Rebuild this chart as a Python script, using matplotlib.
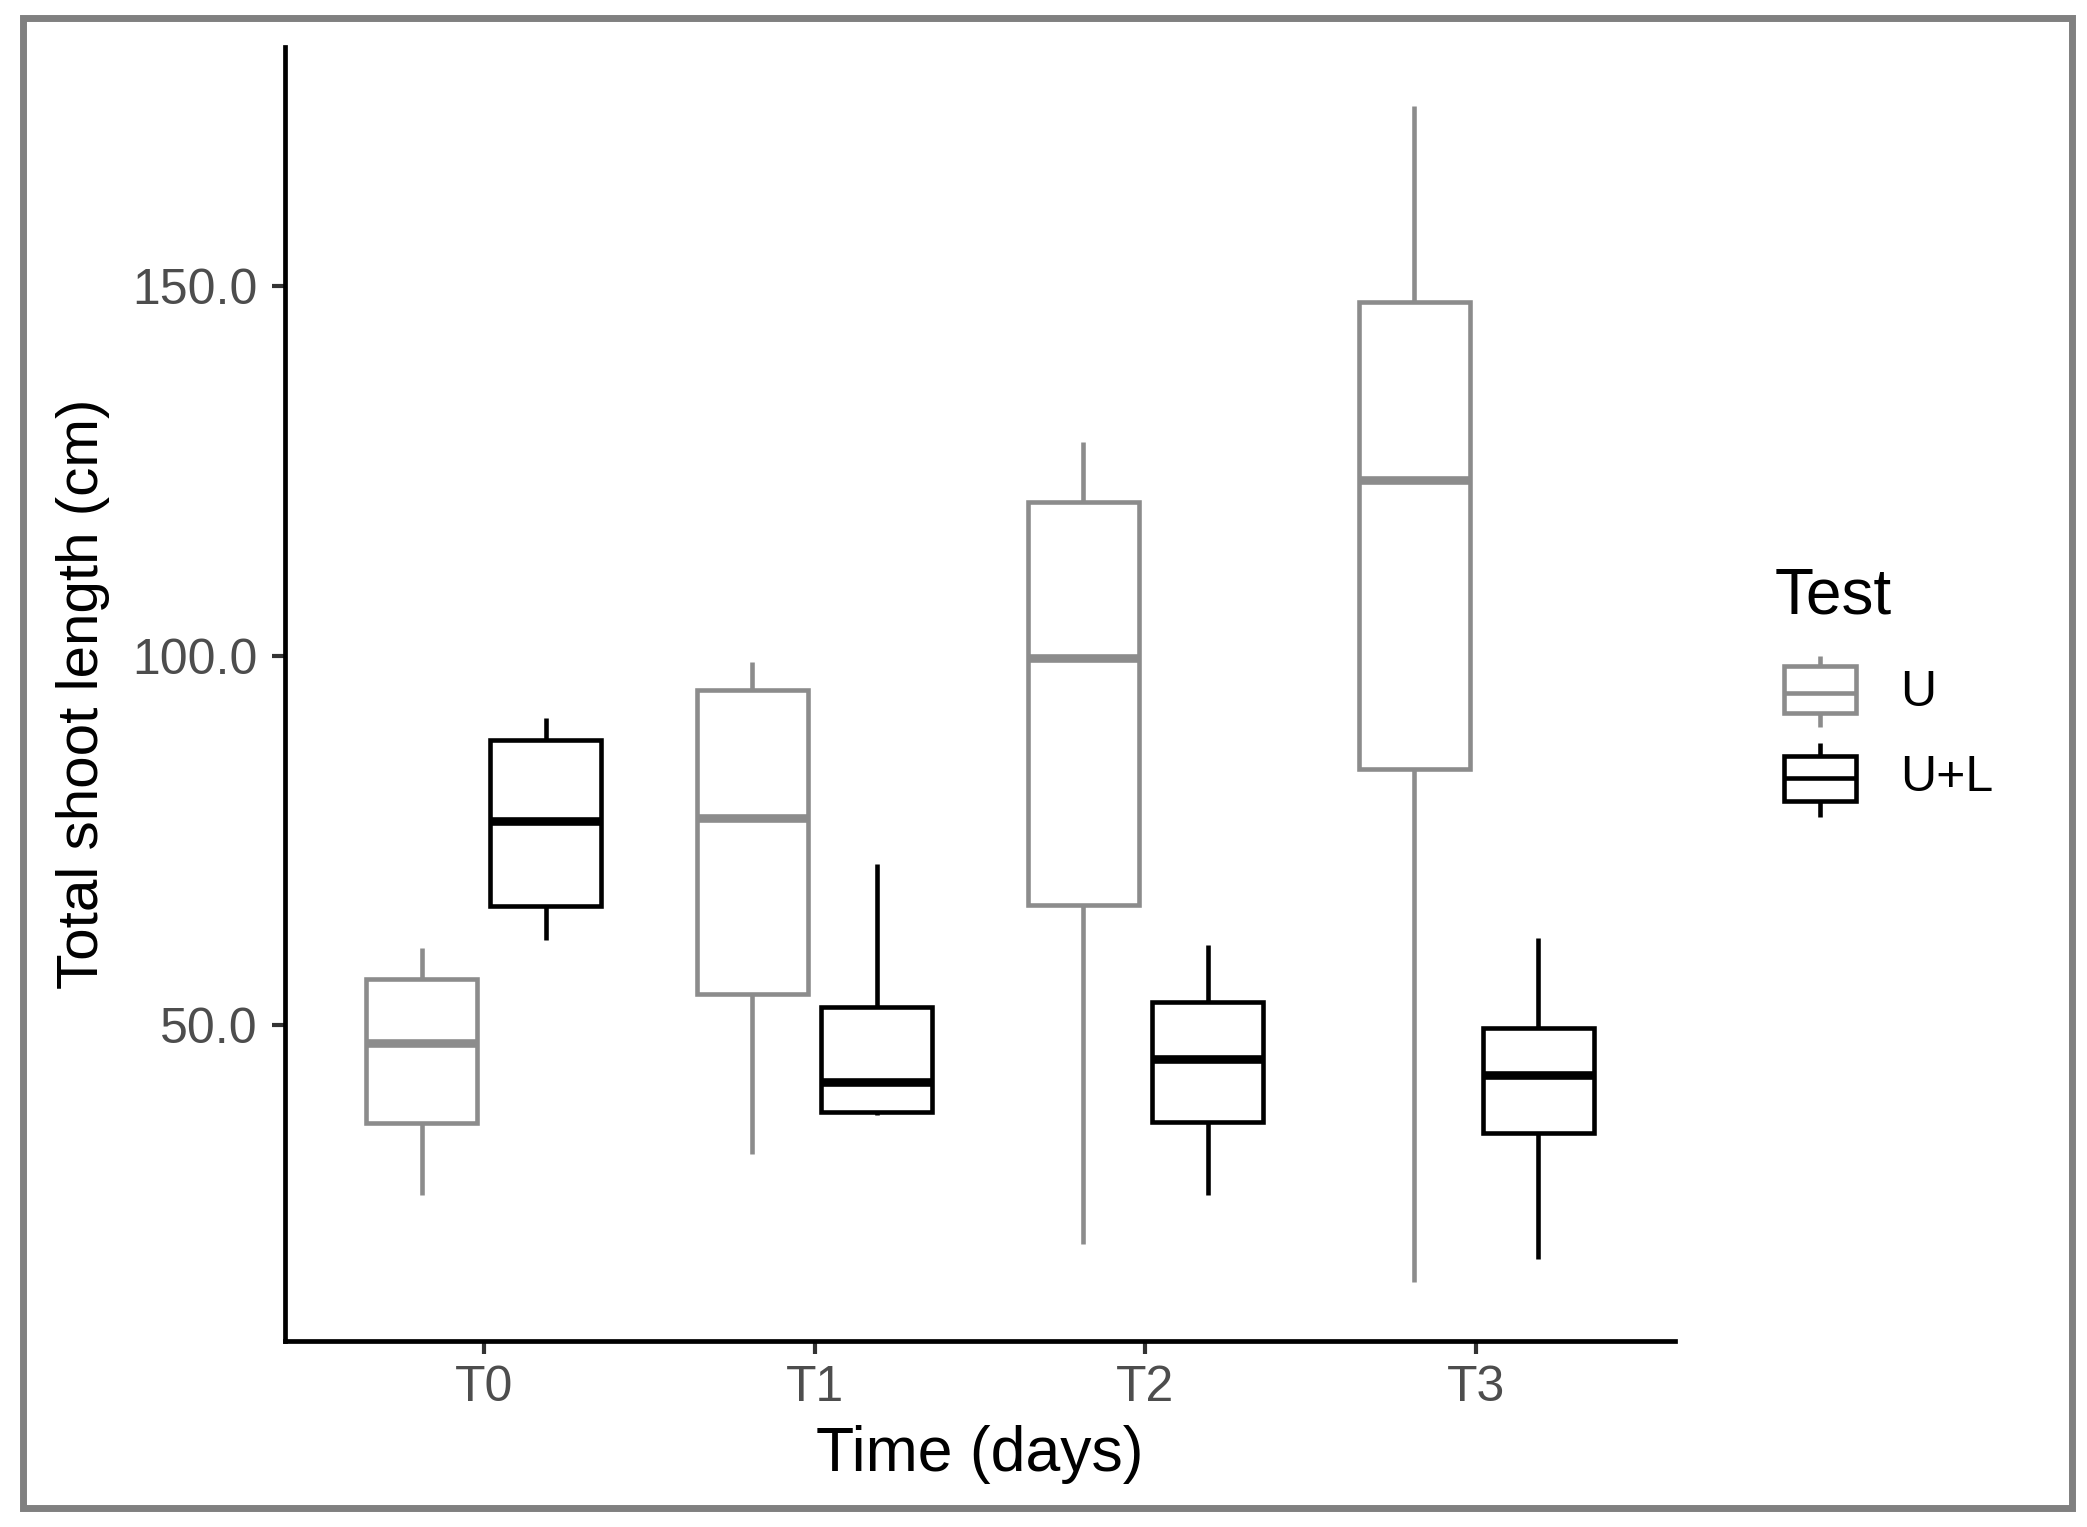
import matplotlib
matplotlib.use("Agg")
import matplotlib.pyplot as plt
from matplotlib.patches import Rectangle
import numpy as np

plt.rcParams['font.family'] = ['Liberation Sans', 'DejaVu Sans']

# values (cm)
times = ['T0', 'T1', 'T2', 'T3']
groups = ['U', 'U+L']
colours = ['#8c8c8c', '#000000']

u_whislo = [27.1, 32.6, 20.5, 15.3]
u_q1 = [36.8, 54.3, 66.3, 84.7]
u_med = [47.6, 78.0, 99.7, 123.7]
u_q3 = [56.3, 95.3, 120.8, 147.8]
u_whishi = [60.5, 99.1, 128.9, 174.3]

ul_whislo = [61.6, 37.9, 27.1, 18.4]
ul_q1 = [66.1, 38.3, 37.0, 35.4]
ul_med = [77.6, 42.4, 45.5, 43.3]
ul_q3 = [88.6, 52.5, 53.2, 49.6]
ul_whishi = [91.6, 71.8, 60.9, 61.8]

yticks = [50, 100, 150]

W, H = 2087, 1527
fig = plt.figure(figsize=(W / 100, H / 100), dpi=100)
fig.patch.set_facecolor('white')

#background layer in pixel coords for frame + legend
bg = fig.add_axes([0, 0, 1, 1])
bg.set_xlim(0, W)
bg.set_ylim(H, 0)
bg.axis('off')
bg.add_patch(Rectangle((23, 18), 2072 - 23, 1508 - 18, fill=False,
                       edgecolor='#808080', linewidth=5.0))

ax_l, ax_r, ax_t, ax_b = 285, 1675, 47, 1341
ax = fig.add_axes([ax_l / W, 1 - ax_b / H, (ax_r - ax_l) / W, (ax_b - ax_t) / H])

lw_box = 3.3
lw_med = 6.2
dodge = 0.1875
bw = 0.3375
x = np.arange(1, len(times) + 1)

series = [
    (u_whislo, u_q1, u_med, u_q3, u_whishi),
    (ul_whislo, ul_q1, ul_med, ul_q3, ul_whishi),
]
for k, (lo, q1, med, q3, hi) in enumerate(series):
    c = colours[k]
    stats = [dict(whislo=lo[i], q1=q1[i], med=med[i], q3=q3[i], whishi=hi[i])
             for i in range(len(times))]
    pos = x + (dodge if k == 1 else -dodge)
    ax.bxp(stats, positions=pos, widths=bw, patch_artist=True,
           showfliers=False, showcaps=False, manage_ticks=False,
           boxprops=dict(facecolor='white', edgecolor=c, linewidth=lw_box),
           whiskerprops=dict(color=c, linewidth=lw_box, solid_capstyle='butt'),
           medianprops=dict(color=c, linewidth=lw_med, solid_capstyle='butt'))

allv = u_whislo + u_whishi + ul_whislo + ul_whishi
lo_v, hi_v = min(allv), max(allv)
pad = 0.05 * (hi_v - lo_v)
ax.set_ylim(lo_v - pad, hi_v + pad)
ax.set_xlim(0.4, len(times) + 0.6)

ax.set_xticks(x)
ax.set_xticklabels(times)
ax.set_yticks(yticks)
ax.set_yticklabels(['%.1f' % v for v in yticks])

for s in ['top', 'right']:
    ax.spines[s].set_visible(False)
for s in ['left', 'bottom']:
    ax.spines[s].set_linewidth(3.4)
    ax.spines[s].set_color('black')
ax.tick_params(axis='both', length=9.5, width=3.0, color='#333333',
               labelsize=36, labelcolor='#4d4d4d')
ax.tick_params(axis='y', pad=10)
ax.tick_params(axis='x', pad=8)

ax.set_xlabel('Time (days)', fontsize=45, va='center')
ax.xaxis.set_label_coords(0.5, (ax_b - 1455) / (ax_b - ax_t))
ax.set_ylabel('Total shoot length (cm)', fontsize=42, va='center')
ax.yaxis.set_label_coords((83 - ax_l) / (ax_r - ax_l), 0.5)

# legend drawn by hand, ggplot style keys
bg.text(1775, 613, 'Test', fontsize=46, ha='left', va='baseline', color='black')
key_rows = [(666, 713, 693, 656, 727), (756, 801, 778, 743, 817)]
kx0, kx1 = 1784, 1856
for k, (top, bot, mid, wt, wb) in enumerate(key_rows):
    c = colours[k]
    xm = (kx0 + kx1) / 2
    bg.plot([xm, xm], [wt, wb], color=c, lw=lw_box, solid_capstyle='butt', zorder=1)
    bg.add_patch(Rectangle((kx0, top), kx1 - kx0, bot - top, facecolor='white',
                           edgecolor=c, linewidth=lw_box, zorder=2))
    bg.plot([kx0, kx1], [mid, mid], color=c, lw=lw_box, solid_capstyle='butt', zorder=3)
    bg.text(1900, mid, groups[k], fontsize=36, ha='left', va='center', color='black')

plt.savefig('out.png', dpi=100)
